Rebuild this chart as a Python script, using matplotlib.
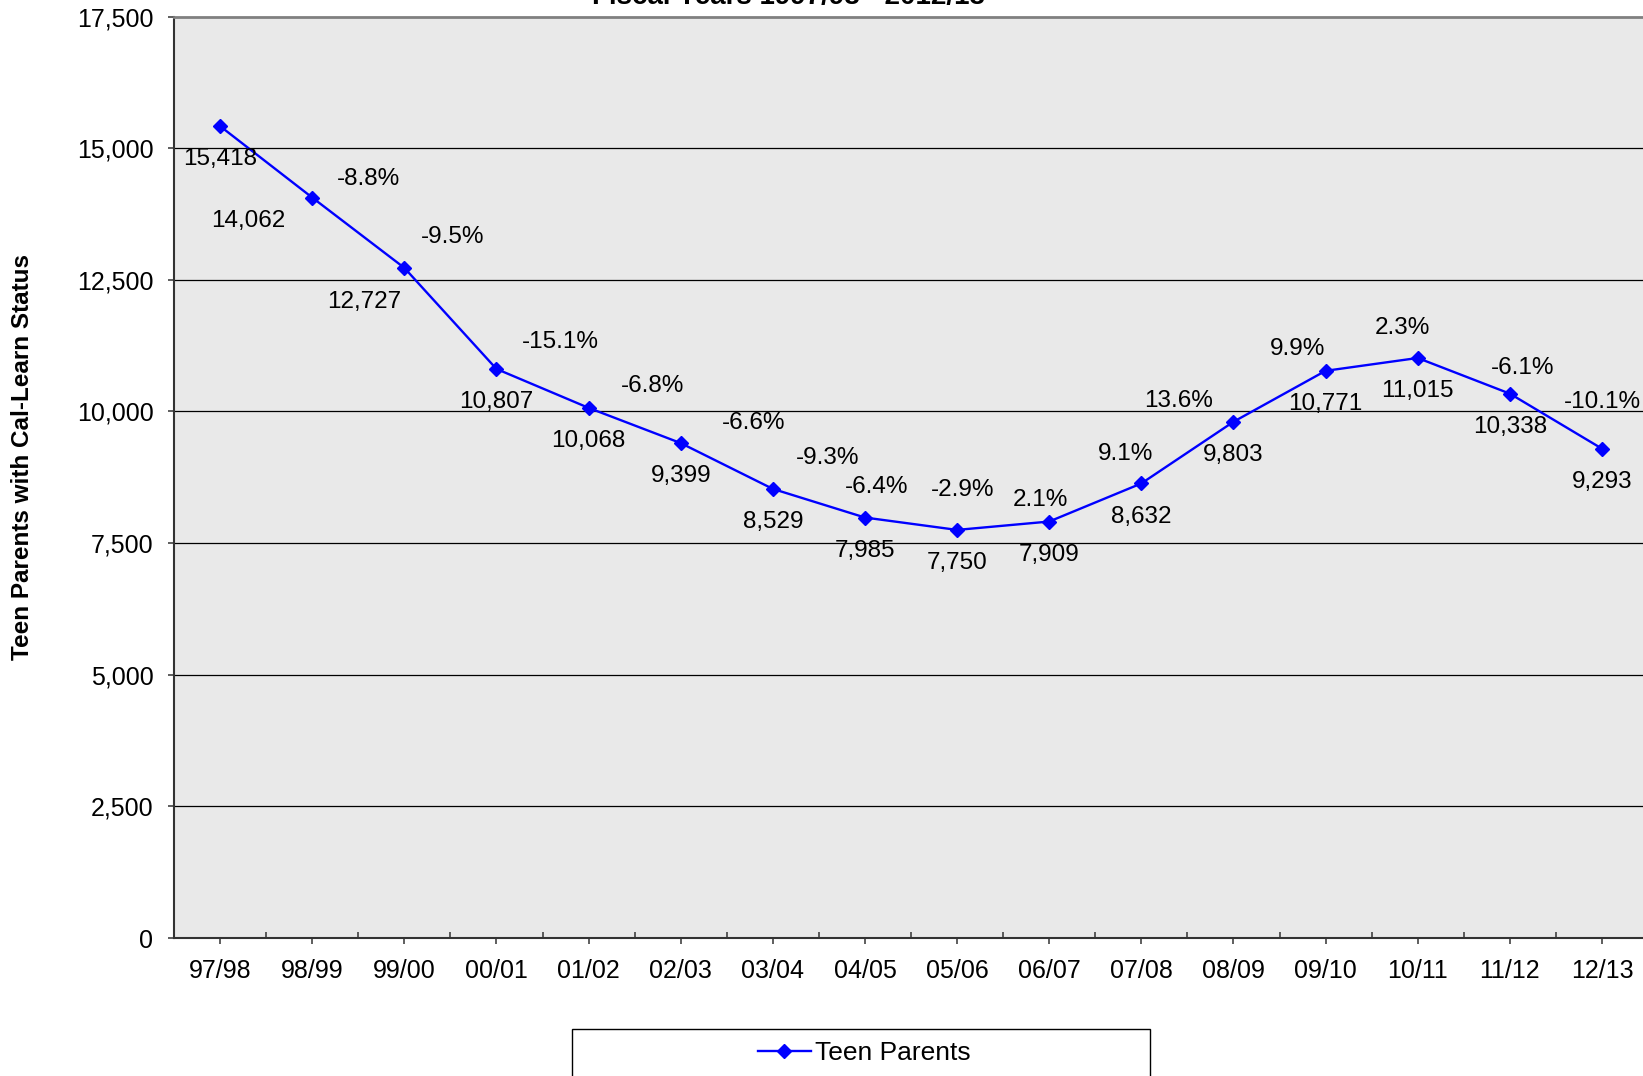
import matplotlib
matplotlib.use("Agg")
import matplotlib.pyplot as plt
from matplotlib.patches import Rectangle
from matplotlib.ticker import FuncFormatter, FixedLocator

plt.rcParams['font.family'] = ['Liberation Sans', 'DejaVu Sans']

# ---- data ----
years = ['97/98', '98/99', '99/00', '00/01', '01/02', '02/03', '03/04', '04/05',
         '05/06', '06/07', '07/08', '08/09', '09/10', '10/11', '11/12', '12/13']
teen_parents = [15418, 14062, 12727, 10807, 10068, 9399, 8529, 7985,
                7750, 7909, 8632, 9803, 10771, 11015, 10338, 9293]
pct_change = [-8.8, -9.5, -15.1, -6.8, -6.6, -9.3, -6.4, -2.9,
              2.1, 9.1, 13.6, 9.9, 2.3, -6.1, -10.1]
y_ticks = [0, 2500, 5000, 7500, 10000, 12500, 15000, 17500]

# ---- label offsets (points) ----
value_offsets = [(0, -24), (-46, -16.6), (-28.7, -24.5)] + [(0, -24)] * 13
pct_offsets = [(40.7, 13.6), (34.7, 21.9), (46.0, 19.6), (46.0, 15.8), (52.8, 14.3),
               (39.2, 21.9), (8.3, 21.9), (3.8, 28.7), (-6.0, 15.8), (-11.3, 21.1),
               (-39.2, 15.1), (-20.4, 15.8), (-11.3, 21.9), (9.4, 18.7), (0.0, 33.8)]

W, H = 1643, 1076
fig = plt.figure(figsize=(W / 100, H / 100), dpi=100)
fig.patch.set_facecolor('white')

ax_left, ax_right = 174, 1648
ax_top, ax_bottom = 16.5, 938
ax = fig.add_axes([ax_left / W, 1 - ax_bottom / H,
                   (ax_right - ax_left) / W, (ax_bottom - ax_top) / H])
ax.set_facecolor('#e9e9e9')

x = list(range(len(years)))
ax.plot(x, teen_parents, color='#0000ff', lw=1.7, marker='D', markersize=7,
        markerfacecolor='#0000ff', markeredgecolor='#0000ff', zorder=3,
        label='Teen Parents', clip_on=False)

ax.set_xlim(-0.5, len(years) - 0.5)
ax.set_ylim(0, 17500)

# grid lines
for v in y_ticks[1:-1]:
    ax.axhline(v, color='black', lw=0.9, zorder=1)

ax.yaxis.set_major_locator(FixedLocator(y_ticks))
ax.yaxis.set_major_formatter(FuncFormatter(lambda v, p: f"{int(v):,}"))
ax.set_xticks(x)
ax.set_xticklabels(years)
ax.xaxis.set_minor_locator(FixedLocator([i - 0.5 for i in range(len(years) + 1)]))

ax.tick_params(axis='x', which='major', direction='out', length=4.3, width=1.1,
               color='#333333', labelsize=18, pad=11)
ax.tick_params(axis='x', which='minor', direction='in', length=4.3, width=1.1,
               color='#333333')
ax.tick_params(axis='y', which='major', direction='out', length=4.3, width=1.1,
               color='#333333', labelsize=18, pad=10.5)

for s in ['left', 'bottom']:
    ax.spines[s].set_color('#333333')
    ax.spines[s].set_linewidth(1.5)
ax.spines['top'].set_color('#808080')
ax.spines['top'].set_linewidth(2)
ax.spines['right'].set_visible(False)

# data labels
for i, (v, off) in enumerate(zip(teen_parents, value_offsets)):
    ax.annotate(f"{v:,}", xy=(i, v), xytext=off, textcoords='offset points',
                ha='center', va='center', fontsize=17.5, color='black', zorder=4)
for i, (p, off) in enumerate(zip(pct_change, pct_offsets), start=1):
    ax.annotate(f"{p:.1f}%", xy=(i, teen_parents[i]), xytext=off,
                textcoords='offset points', ha='center', va='center',
                fontsize=17.5, color='black', zorder=4)

# y label
fig.text(23 / W, 1 - 457 / H, 'Teen Parents with Cal-Learn Status', rotation=90,
         ha='center', va='center', fontsize=17.5, fontweight='bold')

# title (cut off at top edge, as in the reference)
fig.text(788 / W, 1 - 4 / H, 'Fiscal Years 1997/98 - 2012/13', ha='center',
         va='baseline', fontsize=20, fontweight='bold')

# legend box (cut off at bottom)
fig.patches.append(Rectangle((572 / W, -0.05), (1150 - 572) / W, (1076 - 1029) / H + 0.05,
                             transform=fig.transFigure, facecolor='white',
                             edgecolor='black', lw=1.0, zorder=0))
fig.legend(loc='center', bbox_to_anchor=(864 / W, 1 - 1053 / H), frameon=False,
           fontsize=19, handlelength=2.0, handletextpad=0.15, borderpad=0,
           borderaxespad=0)

fig.savefig('out.png', dpi=100)
